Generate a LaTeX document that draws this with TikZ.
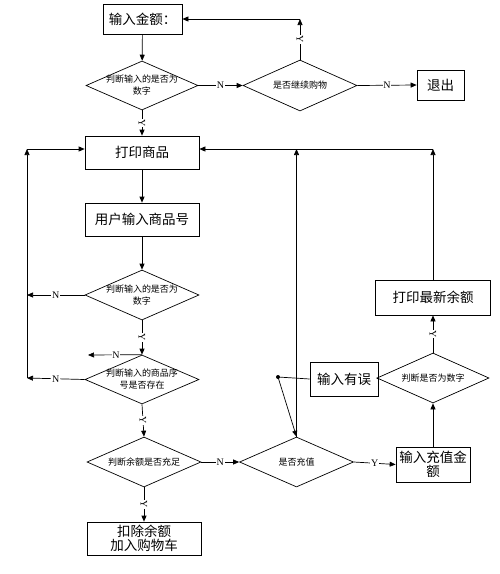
\documentclass[tikz,border=0pt]{standalone}
\usepackage{fontspec}
\newfontfamily\cjk{Noto Sans CJK SC}
\newfontfamily\lat{Liberation Serif}
\usetikzlibrary{shapes.geometric,arrows.meta}
\begin{document}
\begin{tikzpicture}[x=1pt,y=-1pt,
  line width=0.7pt,
  arr/.style={-{Triangle[length=6pt,width=5pt]}},
  box/.style={draw, rectangle, inner sep=0pt, font=\cjk\fontsize{13.5}{15}\selectfont, align=center},
  dia/.style={draw, diamond, inner sep=0pt},
  dtext/.style={font=\cjk\fontsize{9}{12}\selectfont, align=center},
  lab/.style={fill=white, inner sep=0.8pt, font=\lat\fontsize{10}{10}\selectfont},
  ylab/.style={lab, rotate=-90}]
\useasboundingbox (0,0) rectangle (500,574);
\fill[white] (0,0) rectangle (500,574);

% nodes
\node[box, minimum width=79pt, minimum height=30pt] (in) at (142.5,19) {输入金额：};
\node[dia, minimum width=112pt, minimum height=49pt, label={[dtext]center:判断输入的是否为\\数字}] (d1) at (142,85.5) {};
\node[dia, minimum width=114pt, minimum height=51pt, label={[dtext]center:是否继续购物}] (d2) at (300,85.5) {};
\node[box, minimum width=47pt, minimum height=30pt] (exit) at (440.5,85) {退出};
\node[box, minimum width=114pt, minimum height=33pt] (pr) at (142,152.5) {打印商品};
\node[box, minimum width=114pt, minimum height=33pt] (us) at (142,219.5) {用户输入商品号};
\node[dia, minimum width=114pt, minimum height=50pt, label={[dtext]center:判断输入的是否为\\数字}] (d3) at (142,295) {};
\node[dia, minimum width=114pt, minimum height=49pt, label={[dtext]center:判断输入的商品序\\号是否存在}] (d4) at (142,379.5) {};
\node[dia, minimum width=114pt, minimum height=50pt, label={[dtext]center:判断余额是否充足}] (d5) at (144,462) {};
\node[box, minimum width=114pt, minimum height=33pt, font=\cjk\fontsize{13.5}{14}\selectfont] (fin) at (144,538.5) {扣除余额\\加入购物车};
\node[dia, minimum width=114pt, minimum height=50pt, label={[dtext]center:是否充值}] (d6) at (296.5,462) {};
\node[box, minimum width=74pt, minimum height=35pt, font=\cjk\fontsize{13.5}{14}\selectfont] (ch) at (433,464.5) {输入充值金\\额};
\node[dia, minimum width=112pt, minimum height=50pt, label={[dtext]center:判断是否为数字}] (d7) at (433,378) {};
\node[box, minimum width=115pt, minimum height=35pt] (nb) at (433,297.5) {打印最新余额};
\node[box, minimum width=68pt, minimum height=34pt] (err) at (344,379) {输入有误};

% coordinates
\coordinate (c1) at (300,19);
\coordinate (cL) at (27,149);
\coordinate (cLb) at (27,378);
\coordinate (c3) at (27,295);
\coordinate (c4) at (88,355);
\coordinate (cM) at (296.5,149);
\coordinate (cR) at (433,149);
\coordinate (dot) at (278,377);

% connectors
\draw[arr] (in) -- (d1);
\draw[arr] (d1.east) -- node[lab]{N} (d2.west);
\draw[arr] (d2.north) -- node[ylab]{Y} (c1);
\draw[arr] (c1) -- (in.east);
\draw[arr] (d2.east) -- node[lab]{N} (exit.west);
\draw[arr] (d1.south) -- node[ylab]{Y} (pr.north);
\draw[arr] (pr) -- (us);
\draw[arr] (us) -- (d3);
\draw[arr] (d3.west) -- node[lab]{N} (c3);
\draw[arr] (cLb) -- (cL);
\draw[arr] (cL) -- (pr.west |- cL);
\draw[arr] (d3.south) -- node[ylab]{Y} (d4.north);
\draw[arr] (d4.north) -- node[lab, pos=0.48]{N} (c4);
\draw[arr] (d4.west) -- node[lab]{N} (cLb);
\draw[arr] (d4.south) -- node[ylab]{Y} (d5.north);
\draw[arr] (d5.south) -- node[ylab]{Y} (fin.north);
\draw[arr] (d5.east) -- node[lab]{N} (d6.west);
\draw[arr] (d6.east) -- node[lab]{Y} (ch.west);
\draw[arr] (ch.north) -- (d7.south);
\draw[arr] (d7.north) -- node[ylab]{Y} (nb.south);
\draw[arr] (nb.north) -- (cR);
\draw[arr] (cR) -- (pr.east |- cR);
\draw[arr] (d6.north) -- (cM);
\draw (d7.west) -- (err.east);
\draw (err.west) -- (dot);
\fill (dot) circle (2pt);
\draw[arr] (dot) -- (d6.north);
\end{tikzpicture}
\end{document}
